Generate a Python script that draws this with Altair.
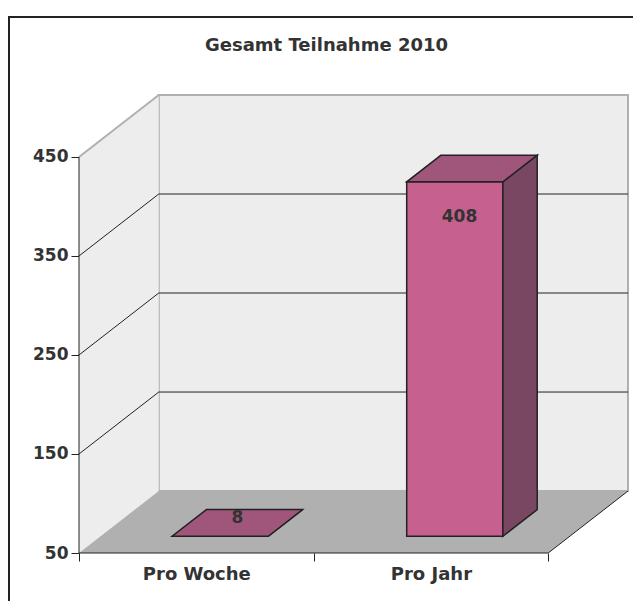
import json
import altair as alt
import pandas as pd

# ---- data ----
categories = ["Pro Woche", "Pro Jahr"]
values = [8, 408]
y_ticks = [50, 150, 250, 350, 450]
chart_title = "Gesamt Teilnahme 2010"

# ---- geometry / style constants ----
Y_MIN, Y_MAX = 50, 450
DX, DY = 0.34, 62.6          # depth offset (x in category units, y in value units)
BAR_LO, BAR_HI = 0.305, 0.715
F1, F2 = 0.27, 0.70          # bar depth range (fraction of full depth)
N = len(categories)
W, H = 549, 458
FONT = "DejaVu Sans"
TXT = "#333333"
DARK = "#222222"
WALL = "#ededed"
WALL_EDGE = "#b0b0b0"
FLOOR = "#b0b0b0"
C_FRONT, C_TOP, C_SIDE = "#c6608f", "#a0567b", "#7a4762"

xs = alt.Scale(domain=[0, N + DX], nice=False, zero=False)
ys = alt.Scale(domain=[Y_MIN, Y_MAX + DY], nice=False, zero=False)

xaxis = alt.Axis(
    values=list(range(N + 1)),
    labelExpr=f"datum.value < {N} ? {json.dumps(categories)}[datum.value] : ''",
    labelOffset=W / (N + DX) / 2,
    labelFlush=False, labelOverlap=False,
    tickSize=8, tickColor=DARK, domain=False, grid=False, title=None,
    labelFont=FONT, labelFontSize=18, labelFontWeight="bold", labelColor=TXT,
    labelPadding=4,
)
yaxis = alt.Axis(
    values=y_ticks, tickSize=8, tickColor=DARK, domain=False, grid=False,
    title=None, labelFont=FONT, labelFontSize=17, labelFontWeight="bold",
    labelColor=TXT, labelPadding=3,
)


def qx(f="x"):
    return alt.X(f"{f}:Q", scale=xs, axis=xaxis)


def qy(f="y"):
    return alt.Y(f"{f}:Q", scale=ys, axis=yaxis)


# ---- walls & floor ----
back_df = pd.DataFrame({"x": [DX], "x2": [N + DX], "y": [Y_MIN + DY], "y2": [Y_MAX + DY]})
back = alt.Chart(back_df).mark_rect(fill=WALL, stroke=WALL_EDGE, strokeWidth=2).encode(
    x=qx(), x2="x2:Q", y=qy(), y2="y2:Q")

left_df = pd.DataFrame({"x": [0, DX], "y": [Y_MIN, Y_MIN + DY], "y2": [Y_MAX, Y_MAX + DY]})
left = alt.Chart(left_df).mark_area(orient="vertical", color=WALL).encode(
    x=qx(), y=qy(), y2="y2:Q")

floor_df = pd.DataFrame({"y": [Y_MIN, Y_MIN + DY], "x": [0, DX], "x2": [N, N + DX]})
floor = alt.Chart(floor_df).mark_area(orient="horizontal", color=FLOOR).encode(
    y=qy(), x=qx(), x2="x2:Q")

# ---- lines ----
dark_rows = []
for v in y_ticks[1:-1]:
    dark_rows.append({"x": DX, "y": v + DY, "x2": N + DX, "y2": v + DY})
    dark_rows.append({"x": 0, "y": v, "x2": DX, "y2": v + DY})
dark_rows.append({"x": 0, "y": Y_MIN, "x2": 0, "y2": Y_MAX})
dark_rows.append({"x": 0, "y": Y_MIN, "x2": N, "y2": Y_MIN})
dark_rows.append({"x": N, "y": Y_MIN, "x2": N + DX, "y2": Y_MIN + DY})
dark_lines = alt.Chart(pd.DataFrame(dark_rows)).mark_rule(color=DARK, strokeWidth=1).encode(
    x=qx(), y=qy(), x2="x2:Q", y2="y2:Q")

gray_rows = [
    {"x": 0, "y": Y_MAX, "x2": DX, "y2": Y_MAX + DY},
    {"x": DX, "y": Y_MIN + DY, "x2": N + DX, "y2": Y_MIN + DY},
]
gray_lines = alt.Chart(pd.DataFrame(gray_rows)).mark_rule(color=WALL_EDGE, strokeWidth=2).encode(
    x=qx(), y=qy(), x2="x2:Q", y2="y2:Q")

# ---- bars ----
front_rows, side_rows, top_rows, label_rows = [], [], [], []
for i, (c, v) in enumerate(zip(categories, values)):
    top = min(max(v, Y_MIN), Y_MAX)
    front_rows.append({"c": c, "x": i + BAR_LO + F1 * DX, "x2": i + BAR_HI + F1 * DX,
                       "y": Y_MIN + F1 * DY, "y2": top + F1 * DY})
    for f in (F1, F2):
        side_rows.append({"c": c, "x": i + BAR_HI + f * DX, "y": Y_MIN + f * DY, "y2": top + f * DY})
        top_rows.append({"c": c, "y": top + f * DY, "x": i + BAR_LO + f * DX, "x2": i + BAR_HI + f * DX})
    mid = i + (BAR_LO + BAR_HI) / 2
    if v <= Y_MIN:
        label_rows.append({"x": mid + (F1 + F2) / 2 * DX, "y": Y_MIN + (F1 + F2) / 2 * DY + 5, "t": str(v)})
    else:
        label_rows.append({"x": mid + F1 * DX + 0.02, "y": top + F1 * DY - 36, "t": str(v)})

front = alt.Chart(pd.DataFrame(front_rows)).mark_rect(
    fill=C_FRONT, stroke=DARK, strokeWidth=1.5).encode(x=qx(), x2="x2:Q", y=qy(), y2="y2:Q")
side = alt.Chart(pd.DataFrame(side_rows)).mark_area(
    orient="vertical", fill=C_SIDE, stroke=DARK, strokeWidth=1.5, opacity=1).encode(
    x=qx(), y=qy(), y2="y2:Q", detail="c:N")
topf = alt.Chart(pd.DataFrame(top_rows)).mark_area(
    orient="horizontal", fill=C_TOP, stroke=DARK, strokeWidth=1.5, opacity=1).encode(
    y=qy(), x=qx(), x2="x2:Q", detail="c:N")

labels = alt.Chart(pd.DataFrame(label_rows)).mark_text(
    font=FONT, fontSize=17, fontWeight="bold", color=TXT, align="center", baseline="middle").encode(
    x=qx(), y=qy(), text="t:N")

# ---- outer frame ----
frame = alt.Chart(pd.DataFrame({"a": [0]})).mark_rect(
    filled=False, stroke=DARK, strokeWidth=2).encode(
    x=alt.value(-70), y=alt.value(-78), x2=alt.value(W + 200), y2=alt.value(H + 200))

chart = alt.layer(
    back, left, floor, gray_lines, dark_lines, front, side, topf, labels, frame
).properties(
    width=W, height=H,
    autosize=alt.AutoSizeParams(type="none"),
    padding={"left": 79, "top": 95, "right": 5, "bottom": 48},
    title=alt.TitleParams(chart_title, anchor="middle", frame="group", dx=-27, offset=-39,
                          font=FONT, fontSize=18, fontWeight="bold", color=TXT),
    background="white",
).configure_view(strokeWidth=0)

chart.save("out.html", embed_options={"renderer": "svg", "actions": False})
